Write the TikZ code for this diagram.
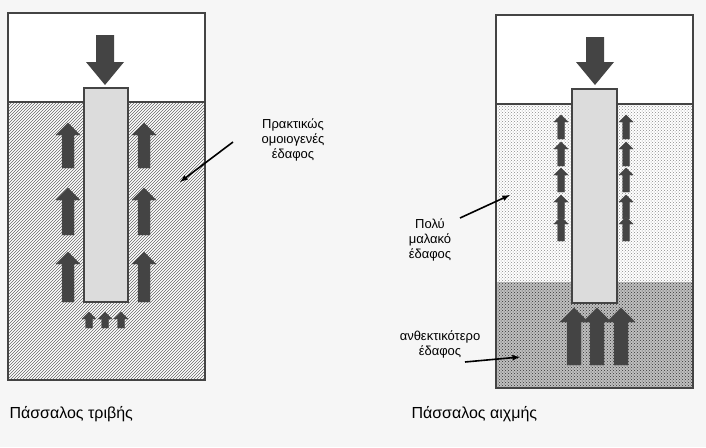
\documentclass[tikz,border=0pt]{standalone}
\usepackage{fontspec}
\setmainfont{Liberation Sans}
\usetikzlibrary{patterns}
\definecolor{bggray}{HTML}{F6F6F6}
\definecolor{arrgray}{HTML}{444444}
\definecolor{pilegray}{HTML}{DCDCDC}
\tikzset{
  soilbox/.style={draw=arrgray,line width=1.2pt},
  pilebox/.style={draw=arrgray,fill=pilegray,line width=2pt},
  label/.style={align=center,font=\fontsize{13}{15}\selectfont},
  title/.style={font=\fontsize{16}{18}\selectfont,anchor=west},
  pointer/.style={-latex,line width=1.6pt}
}
% block arrow pointing up: x centre, tip y, bottom y, shaft width
\newcommand\blockup[4]{%
  \fill[arrgray,draw=black!70] (#1-#4/2,#3) -- (#1-#4/2,#2+#4) -- (#1-#4,#2+#4)
    -- (#1,#2) -- (#1+#4,#2+#4) -- (#1+#4/2,#2+#4) -- (#1+#4/2,#3) -- cycle;}
\begin{document}
\begin{tikzpicture}[x=1pt,y=-1pt]
    \fill[bggray] (0,0) rectangle (706,447);
    \useasboundingbox (0,0) rectangle (706,447);

    % left: friction pile
    \fill[white] (8,13) rectangle (205,102);
    \fill[white] (8,102) rectangle (205,380);
    \fill[pattern=north east lines,pattern color=black!60] (8,102) rectangle (205,380);
    \draw[soilbox] (8,13) rectangle (205,380);
    \draw[soilbox] (8,102) -- (205,102);
    \draw[pilebox] (84,88) rectangle (128,302);
    \fill[arrgray] (96,35) -- (114,35) -- (114,62) -- (124,62) -- (105,85) -- (86,62) -- (96,62) -- cycle;
    \foreach \yt/\yb in {123/168,188/235,252/302} {
        \blockup{68}{\yt}{\yb}{12}
        \blockup{144}{\yt}{\yb}{12}
    }
    \foreach \x in {89,105,121} {
        \blockup{\x}{312}{328}{7}
    }
    \node[label] (homog) at (293,140) {Πρακτικώς\\ομοιογενές\\έδαφος};
    \coordinate (homogtip) at (180,182);
    \draw[pointer] (233,142) -- (homogtip);
    \node[title] (fric) at (6,414) {Πάσσαλος τριβής};

    % right: end bearing pile
    \fill[white] (496,15) rectangle (693,104);
    \fill[white] (496,104) rectangle (693,282);
    \fill[pattern=crosshatch dots,pattern color=black!45] (496,104) rectangle (693,282);
    \fill[black!25] (496,282) rectangle (693,388);
    \fill[pattern=crosshatch dots,pattern color=black!80] (496,282) rectangle (693,388);
    \draw[soilbox] (496,15) rectangle (693,388);
    \draw[soilbox] (496,104) -- (693,104);
    \draw[pilebox] (572,89) rectangle (617,303);
    \fill[arrgray] (586,37) -- (604,37) -- (604,62) -- (614,62) -- (595,85) -- (576,62) -- (586,62) -- cycle;
    \foreach \yt in {115,142,168,195,217} {
        \blockup{561}{\yt}{\yt+24}{7}
        \blockup{626}{\yt}{\yt+24}{7}
    }
    \foreach \x in {574,597,621} {
        \blockup{\x}{308}{365}{14}
    }
    \node[label] (soft) at (430,240) {Πολύ\\μαλακό\\έδαφος};
    \coordinate (softtip) at (510,195);
    \draw[pointer] (460,218) -- (softtip);
    \node[label] (stiff) at (440,344) {ανθεκτικότερο\\έδαφος};
    \coordinate (stifftip) at (520,357);
    \draw[pointer] (465,362) -- (stifftip);
    \node[title] (endb) at (408,414) {Πάσσαλος αιχμής};
\end{tikzpicture}
\end{document}
